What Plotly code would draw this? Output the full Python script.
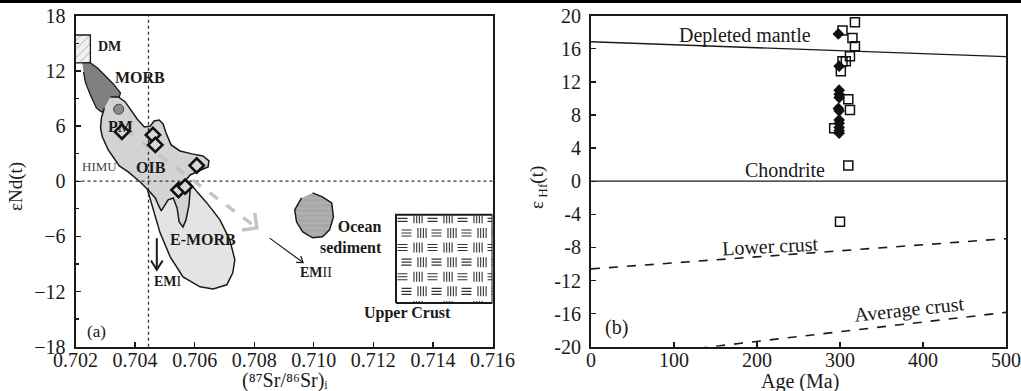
import numpy as np
import plotly.graph_objects as go

# ---------------- Panel (a): (87Sr/86Sr)i vs eNd(t) ----------------
sample_sr = [0.70356, 0.70460, 0.70468, 0.70607, 0.70546, 0.70568]
sample_nd = [5.39, 5.03, 3.95, 1.70, -0.95, -0.59]

pm_sr = [0.70345]
pm_nd = [7.83]

dm_sr = [0.7020, 0.7025]
dm_nd = [12.86, 15.90]

morb_sr = [0.70223, 0.70250, 0.70274, 0.70300, 0.70327, 0.70351, 0.70344,
           0.70310, 0.70287, 0.70270, 0.70250, 0.70233, 0.70227]
morb_nd = [12.86, 12.86, 12.32, 11.45, 10.58, 9.60, 8.84,
           7.97, 7.53, 7.97, 9.38, 10.79, 11.88]

oib_sr = [0.70317, 0.70344, 0.70367, 0.70387, 0.70407, 0.70431, 0.70451, 0.70464,
          0.70481, 0.70494, 0.70504, 0.70521, 0.70551, 0.70591, 0.70628, 0.70648,
          0.70645, 0.70615, 0.70585, 0.70571, 0.70585, 0.70581, 0.70571, 0.70561,
          0.70548, 0.70541, 0.70528, 0.70511, 0.70498, 0.70488, 0.70478, 0.70468,
          0.70444, 0.70417, 0.70377, 0.70347, 0.70310, 0.70290, 0.70284, 0.70287,
          0.70297]
oib_nd = [9.16, 9.16, 8.62, 7.75, 6.77, 5.90, 6.01, 6.55,
          6.66, 6.23, 5.25, 3.95, 3.29, 2.97, 2.75, 2.21,
          1.55, 1.12, 0.68, 0.14, -0.95, -2.58, -4.21, -4.97,
          -4.42, -2.90, -1.82, -2.03, -2.79, -3.23, -2.58, -1.82,
          -0.95, -0.08, 1.01, 1.66, 3.40, 4.82, 5.79, 6.88,
          7.97]

emorb_sr = [0.70441, 0.70461, 0.70484, 0.70518, 0.70561, 0.70618, 0.70662, 0.70708,
            0.70728, 0.70735, 0.70718, 0.70685, 0.70641, 0.70608, 0.70581, 0.70534,
            0.70484]
emorb_nd = [-0.84, -3.12, -5.62, -8.23, -10.40, -11.49, -11.71, -11.27,
            -9.97, -8.55, -6.38, -4.21, -2.36, -1.16, -0.08, 0.68,
            0.14]

ocean_sr = [0.70996, 0.71029, 0.71060, 0.71066, 0.71053, 0.71029, 0.70996,
            0.70963, 0.70942, 0.70936, 0.70959]
ocean_nd = [-1.27, -1.71, -2.36, -3.88, -5.29, -6.05, -6.16,
            -5.51, -4.42, -3.12, -1.82]

crust_sr = [0.71276, 0.7160]
crust_nd = [-13.26, -3.66]

bse_sr = 0.70445
bse_nd = 0.0

mix_arrow_sr = [0.70367, 0.70809]
mix_arrow_nd = [5.58, -5.08]
em1_arrow_sr = [0.70473, 0.70473]
em1_arrow_nd = [-6.20, -9.64]
em2_arrow_sr = [0.70852, 0.70964]
em2_arrow_nd = [-6.19, -8.85]

sr_ticks = [0.702, 0.704, 0.706, 0.708, 0.710, 0.712, 0.714, 0.716]
nd_ticks = [-18, -12, -6, 0, 6, 12, 18]

# ---------------- Panel (b): Age vs eHf(t) ----------------
sq_age = [318, 303, 315, 318, 312, 307, 303, 301, 310, 312, 293, 310, 300]
sq_ehf = [19.2, 18.2, 17.3, 16.3, 15.1, 14.5, 14.5, 13.3, 9.9, 8.6, 6.4, 1.9, -4.9]

dia_age = [298, 299, 299, 299, 299, 298, 299, 299, 299, 299, 299, 299]
dia_ehf = [17.8, 13.9, 11.0, 10.5, 10.1, 8.8, 8.5, 7.4, 7.0, 6.5, 6.1, 5.8]

ref_age = [0, 500]
dm_ehf = [16.85, 15.05]
chur_ehf = [0, 0]
lower_crust_ehf = [-10.6, -6.95]
avg_crust_ehf = [-21.7, -15.85]

age_ticks = [0, 100, 200, 300, 400, 500]
hf_ticks = [-20, -16, -12, -8, -4, 0, 4, 8, 12, 16, 20]

# ---------------- geometry ----------------
W, H = 1021, 391
AX_L, AX_R = 75.5, 492.5
BX_L, BX_R = 591, 1006
Y_TOP, Y_BOT = 15.7, 346.7
PX_X = (AX_R - AX_L) / (0.716 - 0.702)
PX_Y = (Y_BOT - Y_TOP) / 36.0

SERIF = "Liberation Serif, Times New Roman, serif"
INK = "#1a1a1a"


def arrow_head(xs, ys, arm_px, spread_deg):
    x0, x1 = xs
    y0, y1 = ys
    dx = (x1 - x0) * PX_X
    dy = (y1 - y0) * PX_Y
    ang = np.arctan2(dy, dx)
    hx, hy = [], []
    for s in (1, -1):
        a = ang + np.pi + s * np.radians(spread_deg)
        hx.append(x1 + arm_px * np.cos(a) / PX_X)
        hy.append(y1 + arm_px * np.sin(a) / PX_Y)
    return [hx[0], x1, hx[1]], [hy[0], y1, hy[1]]


def crust_hatch(xr, yr):
    x0, x1 = xr
    ylo, yhi = yr
    wpx = (x1 - x0) * PX_X
    hpx = (yhi - ylo) * PX_Y
    hx, hy, vx, vy = [], [], [], []
    row_h = 14.6
    cell = 15.0
    for r in range(7):
        cy = 3.5 + r * row_h  # px below box top
        off = (r % 2) * 4.0
        c = 0
        while True:
            cx = 1.5 + off + c * cell
            if cx > wpx:
                break
            if c % 2 == 0:
                for k in (-3, 0, 3):
                    yy = cy + k
                    if 0.8 < yy < hpx - 0.8:
                        xa = x0 + cx / PX_X
                        xb = min(x0 + (cx + 10) / PX_X, x1)
                        yd = yhi - yy / PX_Y
                        hx += [xa, xb, None]
                        hy += [yd, yd, None]
            else:
                for k in range(4):
                    xx = cx + 1.5 + k * 2.7
                    if xx >= wpx - 0.5:
                        continue
                    xd = x0 + xx / PX_X
                    ya = max(cy - 5, 0.8)
                    yb = min(cy + 5, hpx - 0.8)
                    if yb <= ya:
                        continue
                    vx += [xd, xd, None]
                    vy += [yhi - ya / PX_Y, yhi - yb / PX_Y, None]
            c += 1
    return hx, hy, vx, vy


fig = go.Figure()

def add_a(tr):
    tr.update(xaxis="x", yaxis="y", showlegend=False, hoverinfo="skip")
    fig.add_trace(tr)

def add_b(tr):
    tr.update(xaxis="x2", yaxis="y2", showlegend=False, hoverinfo="skip")
    fig.add_trace(tr)

# DM box (hatched)
add_a(go.Scatter(x=[dm_sr[0], dm_sr[1], dm_sr[1], dm_sr[0]],
                 y=[dm_nd[0], dm_nd[0], dm_nd[1], dm_nd[1]],
                 mode="lines", fill="toself", fillcolor="#efefef",
                 fillpattern=dict(shape="/", size=6, fgcolor="#666666", bgcolor="#f0f0f0", solidity=0.15),
                 line=dict(color=INK, width=1.3)))
# MORB
add_a(go.Scatter(x=morb_sr, y=morb_nd, mode="lines", fill="toself",
                 fillcolor="#808080", line=dict(color=INK, width=1.3)))
# E-MORB
add_a(go.Scatter(x=emorb_sr, y=emorb_nd, mode="lines", fill="toself",
                 fillcolor="#e4e4e4", line=dict(color=INK, width=1.5)))
# OIB / PM field
add_a(go.Scatter(x=oib_sr, y=oib_nd, mode="lines", fill="toself",
                 fillcolor="#d3d3d3", line=dict(color=INK, width=1.5)))
# Ocean sediment
add_a(go.Scatter(x=ocean_sr, y=ocean_nd, mode="lines", fill="toself",
                 fillcolor="#a9a9a9",
                 fillpattern=dict(shape="-", size=5, fgcolor="#c6c6c6", bgcolor="#a8a8a8", solidity=0.2),
                 line=dict(color=INK, width=1.5)))
# Upper crust box
add_a(go.Scatter(x=[crust_sr[0], crust_sr[1], crust_sr[1], crust_sr[0], crust_sr[0]],
                 y=[crust_nd[0], crust_nd[0], crust_nd[1], crust_nd[1], crust_nd[0]],
                 mode="lines", fill="toself", fillcolor="white",
                 line=dict(color=INK, width=2)))
hx, hy, vx, vy = crust_hatch(crust_sr, crust_nd)
add_a(go.Scatter(x=hx, y=hy, mode="lines", line=dict(color="#333333", width=1.1)))
add_a(go.Scatter(x=vx, y=vy, mode="lines", line=dict(color="#333333", width=1.1)))

# dotted reference lines (bulk earth)
add_a(go.Scatter(x=[bse_sr, bse_sr], y=[-18, 18], mode="lines",
                 line=dict(color="#333333", width=1.3, dash="dot")))
add_a(go.Scatter(x=[0.702, 0.716], y=[bse_nd, bse_nd], mode="lines",
                 line=dict(color="#333333", width=1.3, dash="dot")))

# PM circle
add_a(go.Scatter(x=pm_sr, y=pm_nd, mode="markers",
                 marker=dict(symbol="circle", size=10, color="#8a8a8a",
                             line=dict(color="#444444", width=1))))

# mixing arrow (grey dashed)
add_a(go.Scatter(x=mix_arrow_sr, y=mix_arrow_nd, mode="lines",
                 line=dict(color="#c4c4c4", width=3.5, dash="dash")))
ax_, ay_ = arrow_head(mix_arrow_sr, mix_arrow_nd, 15, 45)
add_a(go.Scatter(x=ax_, y=ay_, mode="lines", line=dict(color="#c4c4c4", width=3.5)))

# EM I arrow
add_a(go.Scatter(x=em1_arrow_sr, y=em1_arrow_nd, mode="lines", line=dict(color=INK, width=2)))
ax_, ay_ = arrow_head(em1_arrow_sr, em1_arrow_nd, 11, 32)
add_a(go.Scatter(x=ax_, y=ay_, mode="lines", line=dict(color=INK, width=2)))
# EM II arrow
add_a(go.Scatter(x=em2_arrow_sr, y=em2_arrow_nd, mode="lines", line=dict(color=INK, width=1.2)))
ax_, ay_ = arrow_head(em2_arrow_sr, em2_arrow_nd, 7, 35)
add_a(go.Scatter(x=ax_, y=ay_, mode="lines", line=dict(color=INK, width=1.2)))

# samples
add_a(go.Scatter(x=sample_sr, y=sample_nd, mode="markers",
                 marker=dict(symbol="diamond", size=11, color="#d8d8d8",
                             line=dict(color="#111111", width=2.6))))

# ---------- panel b ----------
add_b(go.Scatter(x=ref_age, y=dm_ehf, mode="lines", line=dict(color=INK, width=1.3)))
add_b(go.Scatter(x=ref_age, y=chur_ehf, mode="lines", line=dict(color=INK, width=1.3)))
add_b(go.Scatter(x=ref_age, y=lower_crust_ehf, mode="lines", line=dict(color=INK, width=1.6, dash="dash")))
add_b(go.Scatter(x=ref_age, y=avg_crust_ehf, mode="lines", line=dict(color=INK, width=1.6, dash="dash")))
add_b(go.Scatter(x=dia_age, y=dia_ehf, mode="markers",
                 marker=dict(symbol="diamond", size=9, color="#111111", line=dict(width=0))))
add_b(go.Scatter(x=sq_age, y=sq_ehf, mode="markers",
                 marker=dict(symbol="square-open", size=9, color="#111111", line=dict(width=1.5))))

# ---------- annotations ----------
ann = []
def txt_a(x, y, t, size=15, bold=True, color=INK, **kw):
    ann.append(dict(x=x, y=y, xref="x", yref="y", text=(f"<b>{t}</b>" if bold else t),
                    showarrow=False, font=dict(family=SERIF, size=size, color=color), **kw))

def txt_b(x, y, t, size=20, angle=0, **kw):
    ann.append(dict(x=x, y=y, xref="x2", yref="y2", text=t, textangle=angle,
                    showarrow=False, font=dict(family=SERIF, size=size, color=INK), **kw))

def txt_p(px, py, t, size=20, angle=0):
    ann.append(dict(x=px / W, y=1 - py / H, xref="paper", yref="paper", text=t,
                    textangle=angle, showarrow=False, xanchor="center", yanchor="middle",
                    font=dict(family=SERIF, size=size, color=INK)))

txt_a(0.70314, 14.63, "DM", size=14)
txt_a(0.70417, 11.23, "MORB", size=16)
txt_a(0.70351, 5.90, "PM", size=16)
txt_a(0.70280, 1.55, "HIMU", size=13, bold=False, color="#444444")
txt_a(0.70454, 1.45, "OIB", size=16)
txt_a(0.70628, -6.38, "E-MORB", size=16)
txt_a(0.70511, -10.95, "<b>EM</b>I", size=14, bold=False)
txt_a(0.71237, -6.1, "<b>Ocean</b><br><b>sediment</b>", size=16, bold=False,
      xanchor="right", align="right")
txt_a(0.71009, -9.88, "<b>EM</b>II", size=14, bold=False)
txt_a(0.71314, -14.34, "Upper Crust", size=16)
txt_a(0.70270, -16.4, "(a)", size=17, bold=False)

txt_b(185.5, 17.66, "Depleted mantle")
txt_b(233.7, 1.32, "Chondrite")
txt_b(215.7, -7.8, "Lower crust", angle=-3)
txt_b(384, -15.5, "Average crust", angle=-6)
txt_b(31.3, -17.7, "(b)")

# axis titles
txt_p(285, 380, "(⁸⁷Sr/⁸⁶Sr)ᵢ", size=20)
txt_p(800, 381, "Age (Ma)", size=20)
txt_p(16, 187, "εNd(t)", size=19, angle=-90)
txt_p(538, 188, "ε<sub> Hf</sub>(t)", size=19, angle=-90)

axis_common = dict(showline=True, mirror=True, linecolor=INK, linewidth=2,
                   ticks="inside", tickcolor=INK, ticklen=5, tickwidth=1.3,
                   showgrid=False, zeroline=False, automargin=False,
                   tickfont=dict(family=SERIF, size=20, color=INK))

fig.update_layout(
    width=W, height=H,
    margin=dict(l=0, r=0, t=0, b=0),
    paper_bgcolor="white", plot_bgcolor="white",
    showlegend=False,
    annotations=ann,
    xaxis=dict(domain=[AX_L / W, AX_R / W], range=[0.702, 0.716],
               tickvals=sr_ticks, ticktext=[f"{v:.3f}" for v in sr_ticks],
               ticklabelstandoff=-6, anchor="y", **axis_common),
    yaxis=dict(domain=[1 - Y_BOT / H, 1 - Y_TOP / H], range=[-18, 18],
               tickvals=nd_ticks, ticklabelstandoff=4,
               minor=dict(dtick=3, ticks="inside", ticklen=3, tickcolor=INK),
               anchor="x", **axis_common),
    xaxis2=dict(domain=[BX_L / W, BX_R / W], range=[0, 500],
                tickvals=age_ticks, ticklabelstandoff=-6,
                anchor="y2", **axis_common),
    yaxis2=dict(domain=[1 - Y_BOT / H, 1 - Y_TOP / H], range=[-20, 20],
                tickvals=hf_ticks, ticktext=[str(v) for v in hf_ticks],
                ticklabelstandoff=4, anchor="x2", **axis_common),
    shapes=[dict(type="line", xref="paper", yref="paper", x0=0, x1=1,
                 y0=1 - 1.5 / H, y1=1 - 1.5 / H, line=dict(color="black", width=3))],
)

fig.write_html("out.html", config={"displayModeBar": False, "staticPlot": True},
               post_script="document.body.style.margin='0px';document.body.style.padding='0px';")
